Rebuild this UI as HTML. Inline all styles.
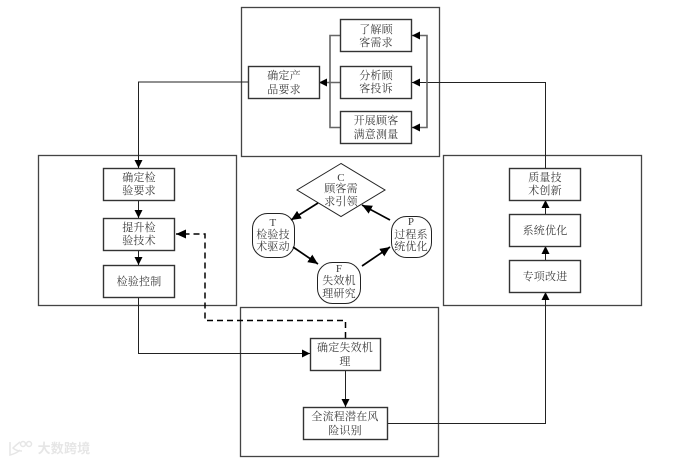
<!DOCTYPE html>
<html lang="zh">
<head>
<meta charset="utf-8">
<style>
html,body{margin:0;padding:0;background:#fff}
svg{display:block}
text{font-family:"Liberation Serif","Noto Serif CJK SC",serif;font-size:11px;letter-spacing:.2px;fill:#3c3c3c;text-anchor:middle}
.f{fill:none;stroke:#444;stroke-width:1.3}
.b{fill:#fff;stroke:#333;stroke-width:1.4}
.l{fill:none;stroke:#222;stroke-width:1}
.t{fill:none;stroke:#666;stroke-width:1.6}
.k{fill:none;stroke:#000;stroke-width:1.7}
</style>
</head>
<body>
<svg width="675" height="462" viewBox="0 0 675 462" xmlns="http://www.w3.org/2000/svg">
<defs>
<marker id="a" markerUnits="userSpaceOnUse" markerWidth="9" markerHeight="9" refX="8" refY="4" orient="auto"><path d="M0 0L8 4L0 8Z" fill="#000"/></marker>
<marker id="c" markerUnits="userSpaceOnUse" markerWidth="11" markerHeight="10" refX="10" refY="4.500" orient="auto"><path d="M0 0L10 4.500L0 9Z" fill="#000"/></marker>
</defs>

<!-- containers -->
<rect class="f" x="241.500" y="7.500" width="198" height="149"/>
<rect class="f" x="38.500" y="155.500" width="198" height="150"/>
<rect class="f" x="443.500" y="155.500" width="198" height="150"/>
<rect class="f" x="240.500" y="307.500" width="198" height="149"/>

<!-- connectors -->
<path class="l" d="M248 82H138.500V168" marker-end="url(#a)"/>
<path class="l" d="M138.500 200V218" marker-end="url(#a)"/>
<path class="l" d="M138.500 250V265" marker-end="url(#a)"/>
<path class="l" d="M138.500 297V353.500H310" marker-end="url(#a)"/>
<path class="l" d="M345.500 370V407" marker-end="url(#a)"/>
<path class="l" d="M387 423.500H545.500V292" marker-end="url(#a)"/>
<path class="l" d="M545.500 260V246" marker-end="url(#a)"/>
<path class="l" d="M545.500 214V200" marker-end="url(#a)"/>
<path class="l" d="M545.500 168V82.500H412" marker-end="url(#a)"/>

<!-- brackets -->
<path class="t" d="M340 35.500H330V127.500H340"/>
<path class="t" d="M340 82.500H319" marker-end="url(#a)"/>
<path class="t" d="M427 82.500V35.500H412" marker-end="url(#a)"/>
<path class="t" d="M427 82.500V127.500H412" marker-end="url(#a)"/>

<!-- dashed feedback -->
<path d="M345.500 338V320.500H205V234H176" fill="none" stroke="#000" stroke-width="1.500" stroke-dasharray="6 4" marker-end="url(#c)"/>

<!-- top boxes -->
<rect class="b" x="340.500" y="19.500" width="71" height="32"/>
<text x="376" y="33">了解顾</text><text x="376" y="46">客需求</text>
<rect class="b" x="340.500" y="66.500" width="71" height="32"/>
<text x="376" y="79">分析顾</text><text x="376" y="92">客投诉</text>
<rect class="b" x="340.500" y="111.500" width="71" height="32"/>
<text x="376" y="124">开展顾客</text><text x="376" y="138">满意测量</text>
<rect class="b" x="248.500" y="66.500" width="71" height="32"/>
<text x="284" y="79">确定产</text><text x="284" y="93">品要求</text>

<!-- left boxes -->
<rect class="b" x="103.500" y="168.500" width="71" height="32"/>
<text x="139" y="181">确定检</text><text x="139" y="194">验要求</text>
<rect class="b" x="103.500" y="218.500" width="71" height="32"/>
<text x="139" y="231">提升检</text><text x="139" y="244">验技术</text>
<rect class="b" x="103.500" y="265.500" width="71" height="32"/>
<text x="139" y="285">检验控制</text>

<!-- right boxes -->
<rect class="b" x="509.500" y="168.500" width="71" height="32"/>
<text x="545" y="181">质量技</text><text x="545" y="194">术创新</text>
<rect class="b" x="509.500" y="214.500" width="71" height="32"/>
<text x="545" y="234">系统优化</text>
<rect class="b" x="509.500" y="260.500" width="71" height="32"/>
<text x="545" y="280">专项改进</text>

<!-- bottom boxes -->
<rect class="b" x="310.500" y="338.500" width="70" height="32"/>
<text x="345" y="351">确定失效机</text><text x="345" y="365">理</text>
<rect class="b" x="303.500" y="407.500" width="84" height="32"/>
<text x="345" y="420">全流程潜在风</text><text x="345" y="434">险识别</text>

<!-- central cycle -->
<path d="M341 163.500L297 190L341 216.500L385 190Z" fill="#fff" stroke="#222" stroke-width="1"/>
<text x="341" y="181">C</text><text x="341" y="192">顾客需</text><text x="341" y="205">求引领</text>
<rect x="252.500" y="213.500" width="42" height="44" rx="15" fill="#fff" stroke="#222" stroke-width="1"/>
<text x="273" y="226">T</text><text x="273" y="238">检验技</text><text x="273" y="250">术驱动</text>
<rect x="317.500" y="262.500" width="43" height="41" rx="15" fill="#fff" stroke="#222" stroke-width="1"/>
<text x="339" y="272">F</text><text x="339" y="284">失效机</text><text x="339" y="297">理研究</text>
<rect x="391.500" y="216.500" width="40" height="41" rx="15" fill="#fff" stroke="#222" stroke-width="1"/>
<text x="411" y="225">P</text><text x="411" y="238">过程系</text><text x="411" y="250">统优化</text>
<path class="k" d="M318 203L291 220" marker-end="url(#c)"/>
<path class="k" d="M293 247L318 264" marker-end="url(#c)"/>
<path class="k" d="M362 266L390 247" marker-end="url(#c)"/>
<path class="k" d="M390 220L362 205" marker-end="url(#c)"/>

<!-- watermark -->
<g fill="none" stroke="#e6e6e6" stroke-width="1.500">
<path d="M10 442V455C14 454 17 453 20 450M20 442C16 445 14 447 13 448C15 450 18 451 22 451"/>
<circle cx="23" cy="444" r="2.500"/><circle cx="29" cy="444" r="2.500"/>
</g>
<text x="64" y="453" style="font-size:13px;fill:#e6e6e6;font-family:'Liberation Sans','Noto Sans CJK SC',sans-serif;font-weight:bold">大数跨境</text>
</svg>
</body>
</html>
